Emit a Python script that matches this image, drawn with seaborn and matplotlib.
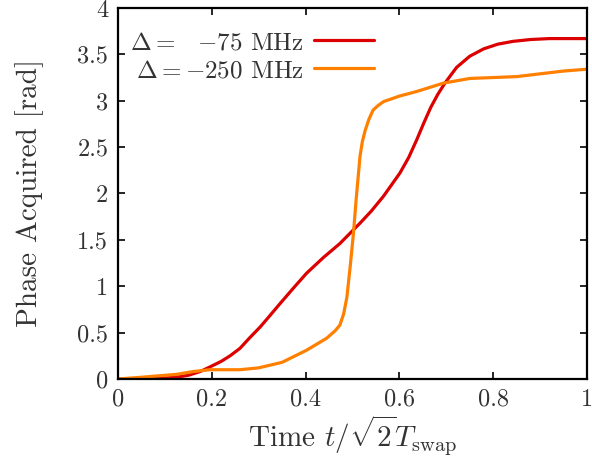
import numpy as np
import pandas as pd
import matplotlib
matplotlib.use("Agg")
import matplotlib.pyplot as plt
import seaborn as sns

# Data
t_red = [0, 0.05, 0.1, 0.125, 0.15, 0.175, 0.196, 0.22, 0.239, 0.26, 0.28, 0.303, 0.325,
         0.345, 0.374, 0.402, 0.438, 0.473, 0.516, 0.54, 0.566, 0.601, 0.62, 0.637, 0.652,
         0.667, 0.682, 0.697, 0.722, 0.75, 0.78, 0.81, 0.842, 0.88, 0.92, 1.0]
phase_red = [0, 0.002, 0.01, 0.02, 0.04, 0.08, 0.13, 0.19, 0.25, 0.33, 0.44, 0.56, 0.69,
             0.81, 0.98, 1.14, 1.31, 1.46, 1.68, 1.81, 1.97, 2.22, 2.39, 2.58, 2.76,
             2.93, 3.07, 3.19, 3.36, 3.48, 3.56, 3.61, 3.64, 3.66, 3.67, 3.67]

t_orange = [0, 0.053, 0.1, 0.125, 0.16, 0.196, 0.26, 0.3, 0.35, 0.402, 0.445, 0.463, 0.473,
            0.481, 0.488, 0.495, 0.502, 0.508, 0.516, 0.521, 0.527, 0.535, 0.544, 0.555,
            0.566, 0.6, 0.637, 0.694, 0.75, 0.8, 0.85, 0.9, 0.95, 1.0]
phase_orange = [0, 0.02, 0.04, 0.05, 0.08, 0.1, 0.1, 0.12, 0.18, 0.31, 0.44, 0.52, 0.58,
                0.7, 0.88, 1.21, 1.57, 1.95, 2.4, 2.56, 2.68, 2.8, 2.9, 2.95,
                2.99, 3.05, 3.1, 3.19, 3.24, 3.25, 3.26, 3.29, 3.32, 3.34]

labels = [r'$\Delta =\ \ \,{-}75$ MHz', r'$\Delta = {-}250$ MHz']
colors = ['#dd0000', '#ff8000']

x_ticks = [0, 0.2, 0.4, 0.6, 0.8, 1]
x_ticklabels = ['0', '0.2', '0.4', '0.6', '0.8', '1']
y_ticks = [0, 0.5, 1, 1.5, 2, 2.5, 3, 3.5, 4]
y_ticklabels = ['0', '0.5', '1', '1.5', '2', '2.5', '3', '3.5', '4']

df = pd.concat([
    pd.DataFrame({'t': t_red, 'phase': phase_red, 'series': labels[0]}),
    pd.DataFrame({'t': t_orange, 'phase': phase_orange, 'series': labels[1]}),
], ignore_index=True)

sns.set_style('ticks')
plt.rcParams['font.family'] = ['cmr10', 'DejaVu Serif']
plt.rcParams['mathtext.fontset'] = 'cm'
plt.rcParams['axes.unicode_minus'] = False

fig = plt.figure(figsize=(5.92, 4.69), dpi=100)
ax = fig.add_axes([0.1993, 0.1919, 0.9916 - 0.1993, 0.983 - 0.1919])

sns.lineplot(data=df, x='t', y='phase', hue='series', palette=colors,
             hue_order=labels, linewidth=2.3, ax=ax, sort=False, estimator=None)
for ln in ax.lines:
    ln.set_solid_joinstyle('round')

ax.set_xlim(0, 1)
ax.set_ylim(0, 4)
ax.set_xticks(x_ticks)
ax.set_xticklabels(x_ticklabels)
ax.set_yticks(y_ticks)
ax.set_yticklabels(y_ticklabels)
ax.tick_params(direction='in', length=5, width=1.2, top=True, right=True,
               labelsize=17.5, pad=7, colors='black', labelcolor='#333333')
for s in ax.spines.values():
    s.set_visible(True)
    s.set_linewidth(1.6)
    s.set_color('black')

ax.set_xlabel(r'Time $t/\sqrt{2}T_{\rm swap}$', fontsize=21, color='#333333', labelpad=2)
ax.set_ylabel('Phase Acquired [rad]', fontsize=21, color='#333333', labelpad=24)

leg = ax.legend(loc='upper left', frameon=False, markerfirst=False, fontsize=18,
                handlelength=2.4, handletextpad=0.4, borderaxespad=0.1,
                labelspacing=0.22, bbox_to_anchor=(0.0, 0.97))
for txt in leg.get_texts():
    txt.set_color('#333333')

fig.savefig('out.png', dpi=100)
